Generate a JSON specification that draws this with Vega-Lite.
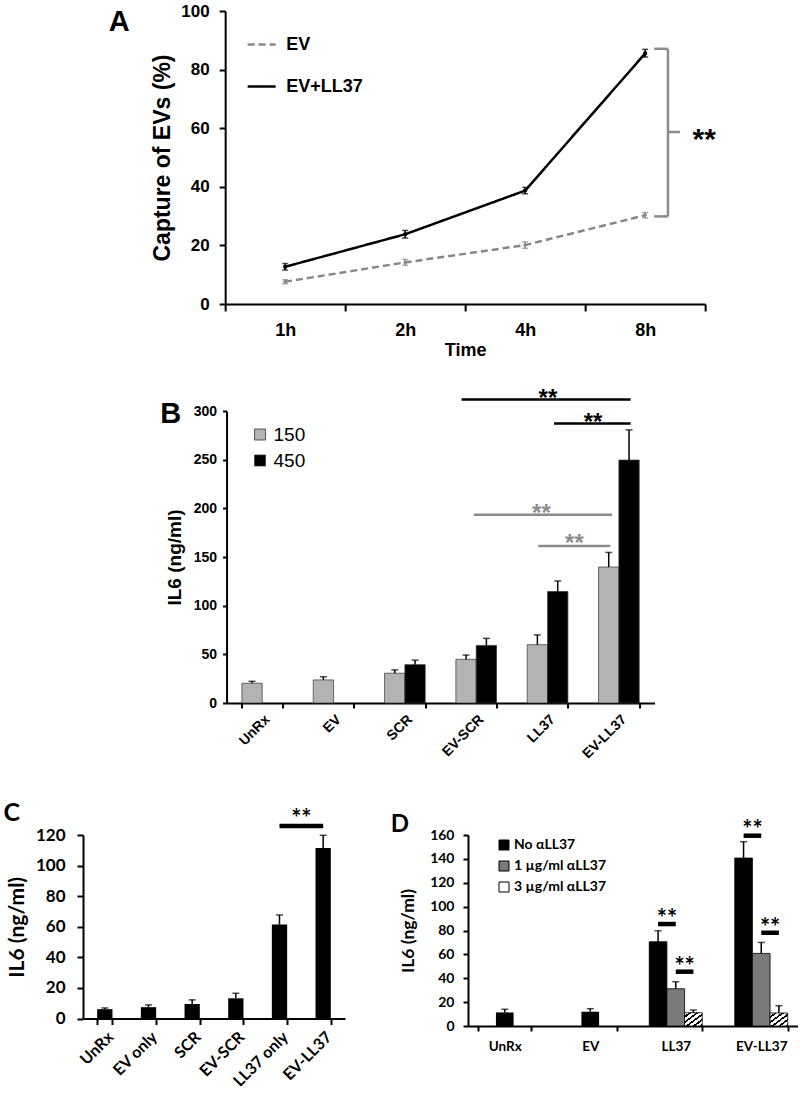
{
"$schema": "https://vega.github.io/schema/vega-lite/v6.json",
"background": "white",
"padding": {"left": 3, "top": 2, "right": 0, "bottom": 0},
"config": {
  "view": {"stroke": null},
  "axis": {"grid": false, "domainColor": "black", "tickColor": "black", "labelColor": "black", "titleColor": "black", "domainWidth": 2, "tickWidth": 2, "labelOverlap": false},
  "title": {"color": "black"},
  "legend": {"labelColor": "black"}
},
"resolve": {"scale": {"color": "independent", "fill": "independent", "strokeDash": "independent", "shape": "independent", "x": "independent", "y": "independent", "xOffset": "independent"}, "legend": {"color": "independent", "fill": "independent", "strokeDash": "independent"}},
"spacing": 39,
"center": true,
"vconcat": [
{
  "spacing": 28,
  "center": true,
  "resolve": {"scale": {"color": "independent", "fill": "independent", "strokeDash": "independent", "shape": "independent", "x": "independent", "y": "independent", "xOffset": "independent"}, "legend": {"color": "independent", "fill": "independent", "strokeDash": "independent"}},
  "vconcat": [
  {
    "width": 540, "height": 293,
    "title": {"text": "A", "orient": "top", "anchor": "start", "frame": "bounds", "baseline": "top", "offset": -35, "dx": -43, "font": "Liberation Sans", "fontSize": 29, "fontWeight": "bold", "color": "black"},
    "data": {"values": [
      {"time": "1h", "series": "EV+LL37", "value": 12.7, "lo": 11.6, "hi": 13.8},
      {"time": "2h", "series": "EV+LL37", "value": 23.8, "lo": 22.5, "hi": 25.1},
      {"time": "4h", "series": "EV+LL37", "value": 38.7, "lo": 37.6, "hi": 39.8},
      {"time": "8h", "series": "EV+LL37", "value": 85.5, "lo": 84.3, "hi": 86.9},
      {"time": "1h", "series": "EV", "value": 7.6, "lo": 6.9, "hi": 8.3},
      {"time": "2h", "series": "EV", "value": 14.2, "lo": 13.2, "hi": 15.2},
      {"time": "4h", "series": "EV", "value": 20.1, "lo": 19.0, "hi": 21.2},
      {"time": "8h", "series": "EV", "value": 30.3, "lo": 29.4, "hi": 31.2}
    ]},
    "layer": [
      {
        "mark": {"type": "line", "strokeWidth": 2.5},
        "encoding": {
          "x": {"field": "time", "type": "nominal", "bandPosition": 0.5, "scale": {"type": "band", "domain": ["1h", "2h", "4h", "8h"], "range": [60, 540], "paddingInner": 0, "paddingOuter": 0},
                "axis": {"title": "Time", "labelAngle": 0, "tickBand": "extent", "labelFont": "Liberation Sans", "labelFontSize": 18, "labelFontWeight": "bold", "titleFont": "Liberation Sans", "titleFontSize": 18, "titleFontWeight": "bold", "tickSize": 7, "labelPadding": 10, "titlePadding": 2, "labelOverlap": false}},
          "y": {"field": "value", "type": "quantitative", "scale": {"domain": [0, 100], "nice": false},
                "axis": {"title": "Capture of EVs (%)", "offset": -60, "values": [0, 20, 40, 60, 80, 100], "labelFont": "Liberation Sans", "labelFontSize": 17, "labelFontWeight": "bold", "titleFont": "Liberation Sans", "titleFontSize": 23, "titleFontWeight": "bold", "tickSize": 6, "labelPadding": 10, "titlePadding": 6, "labelOverlap": false}},
          "color": {"field": "series", "type": "nominal", "scale": {"domain": ["EV", "EV+LL37"], "range": ["#888888", "#000000"]},
                    "legend": {"orient": "none", "legendX": 81, "legendY": 18, "title": null, "symbolType": "stroke", "symbolSize": 784, "symbolStrokeWidth": 2.5, "labelFont": "Liberation Sans", "labelFontSize": 18, "labelFontWeight": "bold", "rowPadding": 17, "labelOffset": 9}},
          "strokeDash": {"field": "series", "type": "nominal", "scale": {"domain": ["EV", "EV+LL37"], "range": [[7, 4], [1, 0]]},
                    "legend": {"orient": "none", "legendX": 81, "legendY": 18, "title": null, "symbolType": "stroke", "symbolSize": 784, "symbolStrokeWidth": 2.5, "labelFont": "Liberation Sans", "labelFontSize": 18, "labelFontWeight": "bold", "rowPadding": 17, "labelOffset": 9}}
        }
      },
      {
        "mark": {"type": "rule", "strokeWidth": 1.5},
        "encoding": {
          "x": {"field": "time", "type": "nominal", "scale": {"type": "band", "domain": ["1h", "2h", "4h", "8h"], "range": [60, 540], "paddingInner": 0, "paddingOuter": 0},
                "axis": {"title": "Time", "labelAngle": 0, "tickBand": "extent", "labelFont": "Liberation Sans", "labelFontSize": 18, "labelFontWeight": "bold", "titleFont": "Liberation Sans", "titleFontSize": 18, "titleFontWeight": "bold", "tickSize": 7, "labelPadding": 10, "titlePadding": 2, "labelOverlap": false}},
          "y": {"field": "lo", "type": "quantitative", "scale": {"domain": [0, 100], "nice": false},
                "axis": {"title": "Capture of EVs (%)", "offset": -60, "values": [0, 20, 40, 60, 80, 100], "labelFont": "Liberation Sans", "labelFontSize": 17, "labelFontWeight": "bold", "titleFont": "Liberation Sans", "titleFontSize": 23, "titleFontWeight": "bold", "tickSize": 6, "labelPadding": 10, "titlePadding": 6, "labelOverlap": false}},
          "y2": {"field": "hi"},
          "color": {"condition": {"test": "datum.series === 'EV'", "value": "#888888"}, "value": "#000000"}
        }
      },
      {
        "mark": {"type": "tick", "orient": "horizontal", "size": 6, "thickness": 1.5},
        "encoding": {
          "x": {"field": "time", "type": "nominal", "scale": {"type": "band", "domain": ["1h", "2h", "4h", "8h"], "range": [60, 540], "paddingInner": 0, "paddingOuter": 0},
                "axis": {"title": "Time", "labelAngle": 0, "tickBand": "extent", "labelFont": "Liberation Sans", "labelFontSize": 18, "labelFontWeight": "bold", "titleFont": "Liberation Sans", "titleFontSize": 18, "titleFontWeight": "bold", "tickSize": 7, "labelPadding": 10, "titlePadding": 2, "labelOverlap": false}},
          "y": {"field": "hi", "type": "quantitative", "scale": {"domain": [0, 100], "nice": false},
                "axis": {"title": "Capture of EVs (%)", "offset": -60, "values": [0, 20, 40, 60, 80, 100], "labelFont": "Liberation Sans", "labelFontSize": 17, "labelFontWeight": "bold", "titleFont": "Liberation Sans", "titleFontSize": 23, "titleFontWeight": "bold", "tickSize": 6, "labelPadding": 10, "titlePadding": 6, "labelOverlap": false}},
          "color": {"condition": {"test": "datum.series === 'EV'", "value": "#888888"}, "value": "#000000"}
        }
      },
      {
        "mark": {"type": "tick", "orient": "horizontal", "size": 6, "thickness": 1.5},
        "encoding": {
          "x": {"field": "time", "type": "nominal", "scale": {"type": "band", "domain": ["1h", "2h", "4h", "8h"], "range": [60, 540], "paddingInner": 0, "paddingOuter": 0},
                "axis": {"title": "Time", "labelAngle": 0, "tickBand": "extent", "labelFont": "Liberation Sans", "labelFontSize": 18, "labelFontWeight": "bold", "titleFont": "Liberation Sans", "titleFontSize": 18, "titleFontWeight": "bold", "tickSize": 7, "labelPadding": 10, "titlePadding": 2, "labelOverlap": false}},
          "y": {"field": "lo", "type": "quantitative", "scale": {"domain": [0, 100], "nice": false},
                "axis": {"title": "Capture of EVs (%)", "offset": -60, "values": [0, 20, 40, 60, 80, 100], "labelFont": "Liberation Sans", "labelFontSize": 17, "labelFontWeight": "bold", "titleFont": "Liberation Sans", "titleFontSize": 23, "titleFontWeight": "bold", "tickSize": 6, "labelPadding": 10, "titlePadding": 6, "labelOverlap": false}},
          "color": {"condition": {"test": "datum.series === 'EV'", "value": "#888888"}, "value": "#000000"}
        }
      },
      {
        "mark": {"type": "point", "filled": true, "size": 18, "opacity": 1},
        "encoding": {
          "x": {"field": "time", "type": "nominal", "scale": {"type": "band", "domain": ["1h", "2h", "4h", "8h"], "range": [60, 540], "paddingInner": 0, "paddingOuter": 0},
                "axis": {"title": "Time", "labelAngle": 0, "tickBand": "extent", "labelFont": "Liberation Sans", "labelFontSize": 18, "labelFontWeight": "bold", "titleFont": "Liberation Sans", "titleFontSize": 18, "titleFontWeight": "bold", "tickSize": 7, "labelPadding": 10, "titlePadding": 2, "labelOverlap": false}},
          "y": {"field": "value", "type": "quantitative", "scale": {"domain": [0, 100], "nice": false},
                "axis": {"title": "Capture of EVs (%)", "offset": -60, "values": [0, 20, 40, 60, 80, 100], "labelFont": "Liberation Sans", "labelFontSize": 17, "labelFontWeight": "bold", "titleFont": "Liberation Sans", "titleFontSize": 23, "titleFontWeight": "bold", "tickSize": 6, "labelPadding": 10, "titlePadding": 6, "labelOverlap": false}},
          "shape": {"condition": {"test": "datum.series === 'EV'", "value": "diamond"}, "value": "circle"},
          "color": {"condition": {"test": "datum.series === 'EV'", "value": "#888888"}, "value": "#000000"}
        }
      },
      {
        "data": {"values": [{"time": "8h", "top": 87.1, "bottom": 29.9}]},
        "mark": {"type": "rule", "color": "#8c8c8c", "strokeWidth": 2.5},
        "encoding": {
          "x": {"field": "time", "type": "nominal", "bandPosition": 0.69, "scale": {"type": "band", "domain": ["1h", "2h", "4h", "8h"], "range": [60, 540], "paddingInner": 0, "paddingOuter": 0},
                "axis": {"title": "Time", "labelAngle": 0, "tickBand": "extent", "labelFont": "Liberation Sans", "labelFontSize": 18, "labelFontWeight": "bold", "titleFont": "Liberation Sans", "titleFontSize": 18, "titleFontWeight": "bold", "tickSize": 7, "labelPadding": 10, "titlePadding": 2, "labelOverlap": false}},
          "y": {"field": "top", "type": "quantitative", "scale": {"domain": [0, 100], "nice": false},
                "axis": {"title": "Capture of EVs (%)", "offset": -60, "values": [0, 20, 40, 60, 80, 100], "labelFont": "Liberation Sans", "labelFontSize": 17, "labelFontWeight": "bold", "titleFont": "Liberation Sans", "titleFontSize": 23, "titleFontWeight": "bold", "tickSize": 6, "labelPadding": 10, "titlePadding": 6, "labelOverlap": false}},
          "y2": {"field": "bottom"}
        }
      },
      {
        "data": {"values": [{"time": "8h", "y": 87.1}, {"time": "8h", "y": 29.9}]},
        "mark": {"type": "rule", "color": "#8c8c8c", "strokeWidth": 2.5},
        "encoding": {
          "x": {"field": "time", "type": "nominal", "bandPosition": 0.575, "scale": {"type": "band", "domain": ["1h", "2h", "4h", "8h"], "range": [60, 540], "paddingInner": 0, "paddingOuter": 0},
                "axis": {"title": "Time", "labelAngle": 0, "tickBand": "extent", "labelFont": "Liberation Sans", "labelFontSize": 18, "labelFontWeight": "bold", "titleFont": "Liberation Sans", "titleFontSize": 18, "titleFontWeight": "bold", "tickSize": 7, "labelPadding": 10, "titlePadding": 2, "labelOverlap": false}},
          "x2": {"field": "time", "bandPosition": 0.69},
          "y": {"field": "y", "type": "quantitative", "scale": {"domain": [0, 100], "nice": false},
                "axis": {"title": "Capture of EVs (%)", "offset": -60, "values": [0, 20, 40, 60, 80, 100], "labelFont": "Liberation Sans", "labelFontSize": 17, "labelFontWeight": "bold", "titleFont": "Liberation Sans", "titleFontSize": 23, "titleFontWeight": "bold", "tickSize": 6, "labelPadding": 10, "titlePadding": 6, "labelOverlap": false}}
        }
      },
      {
        "data": {"values": [{"time": "8h", "y": 58.7}]},
        "mark": {"type": "rule", "color": "#8c8c8c", "strokeWidth": 2.5},
        "encoding": {
          "x": {"field": "time", "type": "nominal", "bandPosition": 0.69, "scale": {"type": "band", "domain": ["1h", "2h", "4h", "8h"], "range": [60, 540], "paddingInner": 0, "paddingOuter": 0},
                "axis": {"title": "Time", "labelAngle": 0, "tickBand": "extent", "labelFont": "Liberation Sans", "labelFontSize": 18, "labelFontWeight": "bold", "titleFont": "Liberation Sans", "titleFontSize": 18, "titleFontWeight": "bold", "tickSize": 7, "labelPadding": 10, "titlePadding": 2, "labelOverlap": false}},
          "x2": {"field": "time", "bandPosition": 0.79},
          "y": {"field": "y", "type": "quantitative", "scale": {"domain": [0, 100], "nice": false},
                "axis": {"title": "Capture of EVs (%)", "offset": -60, "values": [0, 20, 40, 60, 80, 100], "labelFont": "Liberation Sans", "labelFontSize": 17, "labelFontWeight": "bold", "titleFont": "Liberation Sans", "titleFontSize": 23, "titleFontWeight": "bold", "tickSize": 6, "labelPadding": 10, "titlePadding": 6, "labelOverlap": false}}
        }
      },
      {
        "data": {"values": [{"time": "8h", "ty": 56, "label": "**"}]},
        "mark": {"type": "text", "align": "right", "baseline": "middle", "font": "Liberation Sans", "fontSize": 30, "fontWeight": "bold", "color": "black"},
        "encoding": {
          "x": {"field": "time", "type": "nominal", "bandPosition": 1.09, "scale": {"type": "band", "domain": ["1h", "2h", "4h", "8h"], "range": [60, 540], "paddingInner": 0, "paddingOuter": 0},
                "axis": {"title": "Time", "labelAngle": 0, "tickBand": "extent", "labelFont": "Liberation Sans", "labelFontSize": 18, "labelFontWeight": "bold", "titleFont": "Liberation Sans", "titleFontSize": 18, "titleFontWeight": "bold", "tickSize": 7, "labelPadding": 10, "titlePadding": 2, "labelOverlap": false}},
          "y": {"field": "ty", "type": "quantitative", "scale": {"domain": [0, 100], "nice": false},
                "axis": {"title": "Capture of EVs (%)", "offset": -60, "values": [0, 20, 40, 60, 80, 100], "labelFont": "Liberation Sans", "labelFontSize": 17, "labelFontWeight": "bold", "titleFont": "Liberation Sans", "titleFontSize": 23, "titleFontWeight": "bold", "tickSize": 6, "labelPadding": 10, "titlePadding": 6, "labelOverlap": false}},
          "text": {"field": "label"}
        }
      }
    ]
  },
  {
    "width": 428, "height": 292,
    "title": {"text": "B", "orient": "top", "anchor": "start", "frame": "bounds", "baseline": "top", "offset": -42, "dx": -5, "font": "Liberation Sans", "fontSize": 29, "fontWeight": "bold", "color": "black"},
    "data": {"values": [
      {"group": "UnRx", "dose": "150", "value": 20.3, "hi": 22.3},
      {"group": "EV", "dose": "150", "value": 23.7, "hi": 27},
      {"group": "SCR", "dose": "150", "value": 30.6, "hi": 34},
      {"group": "SCR", "dose": "450", "value": 39.4, "hi": 44},
      {"group": "EV-SCR", "dose": "150", "value": 44.9, "hi": 49.3},
      {"group": "EV-SCR", "dose": "450", "value": 59.2, "hi": 66.4},
      {"group": "LL37", "dose": "150", "value": 59.9, "hi": 70},
      {"group": "LL37", "dose": "450", "value": 114.5, "hi": 125.4},
      {"group": "EV-LL37", "dose": "150", "value": 139.7, "hi": 154.7},
      {"group": "EV-LL37", "dose": "450", "value": 249.6, "hi": 280.6}
    ]},
    "layer": [
      {
        "mark": {"type": "bar", "stroke": "#333333", "strokeWidth": 0.7},
        "encoding": {
          "x": {"field": "group", "type": "nominal", "scale": {"domain": ["UnRx", "EV", "SCR", "EV-SCR", "LL37", "EV-LL37"], "paddingInner": 0.43, "paddingOuter": 0.215},
                "axis": {"title": null, "labelAngle": -45, "tickBand": "extent", "labelFont": "Liberation Sans", "labelFontSize": 14, "labelFontWeight": "bold", "tickSize": 5, "labelPadding": 4, "labelOverlap": false}},
          "xOffset": {"field": "dose", "type": "nominal", "scale": {"domain": ["150", "450"], "paddingInner": 0, "paddingOuter": 0}},
          "y": {"field": "value", "type": "quantitative", "scale": {"domain": [0, 300], "nice": false},
                "axis": {"title": "IL6 (ng/ml)", "values": [0, 50, 100, 150, 200, 250, 300], "labelFont": "Liberation Sans", "labelFontSize": 14, "labelFontWeight": "bold", "titleFont": "Liberation Sans", "titleFontSize": 19, "titleFontWeight": "bold", "tickSize": 4, "labelPadding": 6, "titlePadding": 9, "labelOverlap": false}},
          "color": {"field": "dose", "type": "nominal", "scale": {"domain": ["150", "450"], "range": ["#b3b3b3", "#000000"]},
                    "legend": {"orient": "none", "legendX": 24, "legendY": 14, "title": null, "symbolType": "square", "symbolSize": 121, "symbolStrokeColor": "#333333", "symbolStrokeWidth": 0.8, "labelFont": "Liberation Sans", "labelFontSize": 19, "labelFontWeight": "normal", "labelOffset": 4, "rowPadding": 6}}
        }
      },
      {
        "mark": {"type": "rule", "color": "#000000", "strokeWidth": 1.5},
        "encoding": {
          "x": {"field": "group", "type": "nominal", "scale": {"domain": ["UnRx", "EV", "SCR", "EV-SCR", "LL37", "EV-LL37"], "paddingInner": 0.43, "paddingOuter": 0.215},
                "axis": {"title": null, "labelAngle": -45, "tickBand": "extent", "labelFont": "Liberation Sans", "labelFontSize": 14, "labelFontWeight": "bold", "tickSize": 5, "labelPadding": 4, "labelOverlap": false}},
          "xOffset": {"field": "dose", "type": "nominal", "scale": {"domain": ["150", "450"], "paddingInner": 0, "paddingOuter": 0}},
          "y": {"field": "value", "type": "quantitative", "scale": {"domain": [0, 300], "nice": false},
                "axis": {"title": "IL6 (ng/ml)", "values": [0, 50, 100, 150, 200, 250, 300], "labelFont": "Liberation Sans", "labelFontSize": 14, "labelFontWeight": "bold", "titleFont": "Liberation Sans", "titleFontSize": 19, "titleFontWeight": "bold", "tickSize": 4, "labelPadding": 6, "titlePadding": 9, "labelOverlap": false}},
          "y2": {"field": "hi"}
        }
      },
      {
        "mark": {"type": "tick", "orient": "horizontal", "size": 7, "thickness": 1.5, "color": "#000000"},
        "encoding": {
          "x": {"field": "group", "type": "nominal", "scale": {"domain": ["UnRx", "EV", "SCR", "EV-SCR", "LL37", "EV-LL37"], "paddingInner": 0.43, "paddingOuter": 0.215},
                "axis": {"title": null, "labelAngle": -45, "tickBand": "extent", "labelFont": "Liberation Sans", "labelFontSize": 14, "labelFontWeight": "bold", "tickSize": 5, "labelPadding": 4, "labelOverlap": false}},
          "xOffset": {"field": "dose", "type": "nominal", "scale": {"domain": ["150", "450"], "paddingInner": 0, "paddingOuter": 0}},
          "y": {"field": "hi", "type": "quantitative", "scale": {"domain": [0, 300], "nice": false},
                "axis": {"title": "IL6 (ng/ml)", "values": [0, 50, 100, 150, 200, 250, 300], "labelFont": "Liberation Sans", "labelFontSize": 14, "labelFontWeight": "bold", "titleFont": "Liberation Sans", "titleFontSize": 19, "titleFontWeight": "bold", "tickSize": 4, "labelPadding": 6, "titlePadding": 9, "labelOverlap": false}}
        }
      },
      {
        "data": {"values": [{"group": "EV-SCR", "to": "EV-LL37", "y": 311.7}]},
        "mark": {"type": "rule", "color": "#000000", "strokeWidth": 2.5},
        "encoding": {
          "x": {"field": "group", "type": "nominal", "bandPosition": 0.14, "scale": {"domain": ["UnRx", "EV", "SCR", "EV-SCR", "LL37", "EV-LL37"], "paddingInner": 0.43, "paddingOuter": 0.215},
                "axis": {"title": null, "labelAngle": -45, "tickBand": "extent", "labelFont": "Liberation Sans", "labelFontSize": 14, "labelFontWeight": "bold", "tickSize": 5, "labelPadding": 4, "labelOverlap": false}},
          "x2": {"field": "to", "bandPosition": 0.79},
          "y": {"field": "y", "type": "quantitative", "scale": {"domain": [0, 300], "nice": false},
                "axis": {"title": "IL6 (ng/ml)", "values": [0, 50, 100, 150, 200, 250, 300], "labelFont": "Liberation Sans", "labelFontSize": 14, "labelFontWeight": "bold", "titleFont": "Liberation Sans", "titleFontSize": 19, "titleFontWeight": "bold", "tickSize": 4, "labelPadding": 6, "titlePadding": 9, "labelOverlap": false}}
        }
      },
      {
        "data": {"values": [{"group": "LL37", "to": "EV-LL37", "y": 287.1}]},
        "mark": {"type": "rule", "color": "#000000", "strokeWidth": 2.5},
        "encoding": {
          "x": {"field": "group", "type": "nominal", "bandPosition": 0.66, "scale": {"domain": ["UnRx", "EV", "SCR", "EV-SCR", "LL37", "EV-LL37"], "paddingInner": 0.43, "paddingOuter": 0.215},
                "axis": {"title": null, "labelAngle": -45, "tickBand": "extent", "labelFont": "Liberation Sans", "labelFontSize": 14, "labelFontWeight": "bold", "tickSize": 5, "labelPadding": 4, "labelOverlap": false}},
          "x2": {"field": "to", "bandPosition": 0.79},
          "y": {"field": "y", "type": "quantitative", "scale": {"domain": [0, 300], "nice": false},
                "axis": {"title": "IL6 (ng/ml)", "values": [0, 50, 100, 150, 200, 250, 300], "labelFont": "Liberation Sans", "labelFontSize": 14, "labelFontWeight": "bold", "titleFont": "Liberation Sans", "titleFontSize": 19, "titleFontWeight": "bold", "tickSize": 4, "labelPadding": 6, "titlePadding": 9, "labelOverlap": false}}
        }
      },
      {
        "data": {"values": [{"group": "EV-SCR", "to": "EV-LL37", "y": 193.4}]},
        "mark": {"type": "rule", "color": "#8c8c8c", "strokeWidth": 2.5},
        "encoding": {
          "x": {"field": "group", "type": "nominal", "bandPosition": 0.44, "scale": {"domain": ["UnRx", "EV", "SCR", "EV-SCR", "LL37", "EV-LL37"], "paddingInner": 0.43, "paddingOuter": 0.215},
                "axis": {"title": null, "labelAngle": -45, "tickBand": "extent", "labelFont": "Liberation Sans", "labelFontSize": 14, "labelFontWeight": "bold", "tickSize": 5, "labelPadding": 4, "labelOverlap": false}},
          "x2": {"field": "to", "bandPosition": 0.33},
          "y": {"field": "y", "type": "quantitative", "scale": {"domain": [0, 300], "nice": false},
                "axis": {"title": "IL6 (ng/ml)", "values": [0, 50, 100, 150, 200, 250, 300], "labelFont": "Liberation Sans", "labelFontSize": 14, "labelFontWeight": "bold", "titleFont": "Liberation Sans", "titleFontSize": 19, "titleFontWeight": "bold", "tickSize": 4, "labelPadding": 6, "titlePadding": 9, "labelOverlap": false}}
        }
      },
      {
        "data": {"values": [{"group": "LL37", "to": "EV-LL37", "y": 161.4}]},
        "mark": {"type": "rule", "color": "#8c8c8c", "strokeWidth": 2.5},
        "encoding": {
          "x": {"field": "group", "type": "nominal", "bandPosition": 0.27, "scale": {"domain": ["UnRx", "EV", "SCR", "EV-SCR", "LL37", "EV-LL37"], "paddingInner": 0.43, "paddingOuter": 0.215},
                "axis": {"title": null, "labelAngle": -45, "tickBand": "extent", "labelFont": "Liberation Sans", "labelFontSize": 14, "labelFontWeight": "bold", "tickSize": 5, "labelPadding": 4, "labelOverlap": false}},
          "x2": {"field": "to", "bandPosition": 0.29},
          "y": {"field": "y", "type": "quantitative", "scale": {"domain": [0, 300], "nice": false},
                "axis": {"title": "IL6 (ng/ml)", "values": [0, 50, 100, 150, 200, 250, 300], "labelFont": "Liberation Sans", "labelFontSize": 14, "labelFontWeight": "bold", "titleFont": "Liberation Sans", "titleFontSize": 19, "titleFontWeight": "bold", "tickSize": 4, "labelPadding": 6, "titlePadding": 9, "labelOverlap": false}}
        }
      },
      {
        "data": {"values": [{"group": "LL37", "ty": 311.9, "label": "**"}]},
        "mark": {"type": "text", "align": "center", "baseline": "middle", "font": "Liberation Sans", "fontSize": 24, "fontWeight": "bold", "color": "#000000"},
        "encoding": {
          "x": {"field": "group", "type": "nominal", "bandPosition": 0.51, "scale": {"domain": ["UnRx", "EV", "SCR", "EV-SCR", "LL37", "EV-LL37"], "paddingInner": 0.43, "paddingOuter": 0.215},
                "axis": {"title": null, "labelAngle": -45, "tickBand": "extent", "labelFont": "Liberation Sans", "labelFontSize": 14, "labelFontWeight": "bold", "tickSize": 5, "labelPadding": 4, "labelOverlap": false}},
          "y": {"field": "ty", "type": "quantitative", "scale": {"domain": [0, 300], "nice": false},
                "axis": {"title": "IL6 (ng/ml)", "values": [0, 50, 100, 150, 200, 250, 300], "labelFont": "Liberation Sans", "labelFontSize": 14, "labelFontWeight": "bold", "titleFont": "Liberation Sans", "titleFontSize": 19, "titleFontWeight": "bold", "tickSize": 4, "labelPadding": 6, "titlePadding": 9, "labelOverlap": false}},
          "text": {"field": "label"}
        }
      },
      {
        "data": {"values": [{"group": "LL37", "ty": 288.1, "label": "**"}]},
        "mark": {"type": "text", "align": "center", "baseline": "middle", "font": "Liberation Sans", "fontSize": 24, "fontWeight": "bold", "color": "#000000"},
        "encoding": {
          "x": {"field": "group", "type": "nominal", "bandPosition": 1.62, "scale": {"domain": ["UnRx", "EV", "SCR", "EV-SCR", "LL37", "EV-LL37"], "paddingInner": 0.43, "paddingOuter": 0.215},
                "axis": {"title": null, "labelAngle": -45, "tickBand": "extent", "labelFont": "Liberation Sans", "labelFontSize": 14, "labelFontWeight": "bold", "tickSize": 5, "labelPadding": 4, "labelOverlap": false}},
          "y": {"field": "ty", "type": "quantitative", "scale": {"domain": [0, 300], "nice": false},
                "axis": {"title": "IL6 (ng/ml)", "values": [0, 50, 100, 150, 200, 250, 300], "labelFont": "Liberation Sans", "labelFontSize": 14, "labelFontWeight": "bold", "titleFont": "Liberation Sans", "titleFontSize": 19, "titleFontWeight": "bold", "tickSize": 4, "labelPadding": 6, "titlePadding": 9, "labelOverlap": false}},
          "text": {"field": "label"}
        }
      },
      {
        "data": {"values": [{"group": "LL37", "ty": 194.6, "label": "**"}]},
        "mark": {"type": "text", "align": "center", "baseline": "middle", "font": "Liberation Sans", "fontSize": 24, "fontWeight": "bold", "color": "#8c8c8c"},
        "encoding": {
          "x": {"field": "group", "type": "nominal", "bandPosition": 0.35, "scale": {"domain": ["UnRx", "EV", "SCR", "EV-SCR", "LL37", "EV-LL37"], "paddingInner": 0.43, "paddingOuter": 0.215},
                "axis": {"title": null, "labelAngle": -45, "tickBand": "extent", "labelFont": "Liberation Sans", "labelFontSize": 14, "labelFontWeight": "bold", "tickSize": 5, "labelPadding": 4, "labelOverlap": false}},
          "y": {"field": "ty", "type": "quantitative", "scale": {"domain": [0, 300], "nice": false},
                "axis": {"title": "IL6 (ng/ml)", "values": [0, 50, 100, 150, 200, 250, 300], "labelFont": "Liberation Sans", "labelFontSize": 14, "labelFontWeight": "bold", "titleFont": "Liberation Sans", "titleFontSize": 19, "titleFontWeight": "bold", "tickSize": 4, "labelPadding": 6, "titlePadding": 9, "labelOverlap": false}},
          "text": {"field": "label"}
        }
      },
      {
        "data": {"values": [{"group": "LL37", "ty": 163.1, "label": "**"}]},
        "mark": {"type": "text", "align": "center", "baseline": "middle", "font": "Liberation Sans", "fontSize": 24, "fontWeight": "bold", "color": "#8c8c8c"},
        "encoding": {
          "x": {"field": "group", "type": "nominal", "bandPosition": 1.16, "scale": {"domain": ["UnRx", "EV", "SCR", "EV-SCR", "LL37", "EV-LL37"], "paddingInner": 0.43, "paddingOuter": 0.215},
                "axis": {"title": null, "labelAngle": -45, "tickBand": "extent", "labelFont": "Liberation Sans", "labelFontSize": 14, "labelFontWeight": "bold", "tickSize": 5, "labelPadding": 4, "labelOverlap": false}},
          "y": {"field": "ty", "type": "quantitative", "scale": {"domain": [0, 300], "nice": false},
                "axis": {"title": "IL6 (ng/ml)", "values": [0, 50, 100, 150, 200, 250, 300], "labelFont": "Liberation Sans", "labelFontSize": 14, "labelFontWeight": "bold", "titleFont": "Liberation Sans", "titleFontSize": 19, "titleFontWeight": "bold", "tickSize": 4, "labelPadding": 6, "titlePadding": 9, "labelOverlap": false}},
          "text": {"field": "label"}
        }
      }
    ]
  }
  ]
},
{
  "spacing": 45,
  "resolve": {"scale": {"color": "independent", "fill": "independent", "strokeDash": "independent", "shape": "independent", "x": "independent", "y": "independent", "xOffset": "independent"}, "legend": {"color": "independent", "fill": "independent", "strokeDash": "independent"}},
  "hconcat": [
  {
    "width": 262, "height": 183.5,
    "title": {"text": "C", "orient": "top", "anchor": "start", "frame": "bounds", "baseline": "top", "offset": -18, "dx": -3, "font": "Lato", "fontSize": 25, "fontWeight": "bold", "color": "black"},
    "data": {"values": [
      {"group": "UnRx", "value": 6.1, "hi": 6.9},
      {"group": "EV only", "value": 7.4, "hi": 8.9},
      {"group": "SCR", "value": 9.5, "hi": 12.2},
      {"group": "EV-SCR", "value": 13.2, "hi": 16.5},
      {"group": "LL37 only", "value": 61.4, "hi": 67.7},
      {"group": "EV-LL37", "value": 111.5, "hi": 119.8}
    ]},
    "layer": [
      {
        "mark": {"type": "bar", "color": "#000000"},
        "encoding": {
          "x": {"field": "group", "type": "nominal", "scale": {"domain": ["UnRx", "EV only", "SCR", "EV-SCR", "LL37 only", "EV-LL37"], "paddingInner": 0.65, "paddingOuter": 0.325},
                "axis": {"title": null, "labelAngle": -45, "tickBand": "extent", "labelFont": "Lato", "labelFontSize": 16, "labelFontWeight": "bold", "tickSize": 6, "labelPadding": 4, "labelOverlap": false}},
          "y": {"field": "value", "type": "quantitative", "scale": {"domain": [0, 120], "nice": false},
                "axis": {"title": "IL6 (ng/ml)", "values": [0, 20, 40, 60, 80, 100, 120], "labelFont": "Lato", "labelFontSize": 17, "labelFontWeight": "bold", "titleFont": "Lato", "titleFontSize": 21, "titleFontWeight": "bold", "tickSize": 6, "labelPadding": 12, "titlePadding": 8, "labelOverlap": false}}
        }
      },
      {
        "mark": {"type": "rule", "color": "#000000", "strokeWidth": 1.5},
        "encoding": {
          "x": {"field": "group", "type": "nominal", "scale": {"domain": ["UnRx", "EV only", "SCR", "EV-SCR", "LL37 only", "EV-LL37"], "paddingInner": 0.65, "paddingOuter": 0.325},
                "axis": {"title": null, "labelAngle": -45, "tickBand": "extent", "labelFont": "Lato", "labelFontSize": 16, "labelFontWeight": "bold", "tickSize": 6, "labelPadding": 4, "labelOverlap": false}},
          "y": {"field": "value", "type": "quantitative", "scale": {"domain": [0, 120], "nice": false},
                "axis": {"title": "IL6 (ng/ml)", "values": [0, 20, 40, 60, 80, 100, 120], "labelFont": "Lato", "labelFontSize": 17, "labelFontWeight": "bold", "titleFont": "Lato", "titleFontSize": 21, "titleFontWeight": "bold", "tickSize": 6, "labelPadding": 12, "titlePadding": 8, "labelOverlap": false}},
          "y2": {"field": "hi"}
        }
      },
      {
        "mark": {"type": "tick", "orient": "horizontal", "size": 7, "thickness": 1.5, "color": "#000000"},
        "encoding": {
          "x": {"field": "group", "type": "nominal", "scale": {"domain": ["UnRx", "EV only", "SCR", "EV-SCR", "LL37 only", "EV-LL37"], "paddingInner": 0.65, "paddingOuter": 0.325},
                "axis": {"title": null, "labelAngle": -45, "tickBand": "extent", "labelFont": "Lato", "labelFontSize": 16, "labelFontWeight": "bold", "tickSize": 6, "labelPadding": 4, "labelOverlap": false}},
          "y": {"field": "hi", "type": "quantitative", "scale": {"domain": [0, 120], "nice": false},
                "axis": {"title": "IL6 (ng/ml)", "values": [0, 20, 40, 60, 80, 100, 120], "labelFont": "Lato", "labelFontSize": 17, "labelFontWeight": "bold", "titleFont": "Lato", "titleFontSize": 21, "titleFontWeight": "bold", "tickSize": 6, "labelPadding": 12, "titlePadding": 8, "labelOverlap": false}}
        }
      },
      {
        "data": {"values": [{"group": "LL37 only", "to": "EV-LL37", "y": 125.9}]},
        "mark": {"type": "rule", "color": "#000000", "strokeWidth": 4.5},
        "encoding": {
          "x": {"field": "group", "type": "nominal", "bandPosition": 0.5, "scale": {"domain": ["UnRx", "EV only", "SCR", "EV-SCR", "LL37 only", "EV-LL37"], "paddingInner": 0.65, "paddingOuter": 0.325},
                "axis": {"title": null, "labelAngle": -45, "tickBand": "extent", "labelFont": "Lato", "labelFontSize": 16, "labelFontWeight": "bold", "tickSize": 6, "labelPadding": 4, "labelOverlap": false}},
          "x2": {"field": "to", "bandPosition": 0.5},
          "y": {"field": "y", "type": "quantitative", "scale": {"domain": [0, 120], "nice": false},
                "axis": {"title": "IL6 (ng/ml)", "values": [0, 20, 40, 60, 80, 100, 120], "labelFont": "Lato", "labelFontSize": 17, "labelFontWeight": "bold", "titleFont": "Lato", "titleFontSize": 21, "titleFontWeight": "bold", "tickSize": 6, "labelPadding": 12, "titlePadding": 8, "labelOverlap": false}}
        }
      },
      {
        "data": {"values": [{"group": "LL37 only", "ty": 130, "label": "**"}]},
        "mark": {"type": "text", "align": "center", "baseline": "middle", "font": "Lato", "fontSize": 24, "fontWeight": "bold", "color": "#000000"},
        "encoding": {
          "x": {"field": "group", "type": "nominal", "bandPosition": 1.93, "scale": {"domain": ["UnRx", "EV only", "SCR", "EV-SCR", "LL37 only", "EV-LL37"], "paddingInner": 0.65, "paddingOuter": 0.325},
                "axis": {"title": null, "labelAngle": -45, "tickBand": "extent", "labelFont": "Lato", "labelFontSize": 16, "labelFontWeight": "bold", "tickSize": 6, "labelPadding": 4, "labelOverlap": false}},
          "y": {"field": "ty", "type": "quantitative", "scale": {"domain": [0, 120], "nice": false},
                "axis": {"title": "IL6 (ng/ml)", "values": [0, 20, 40, 60, 80, 100, 120], "labelFont": "Lato", "labelFontSize": 17, "labelFontWeight": "bold", "titleFont": "Lato", "titleFontSize": 21, "titleFontWeight": "bold", "tickSize": 6, "labelPadding": 12, "titlePadding": 8, "labelOverlap": false}},
          "text": {"field": "label"}
        }
      }
    ]
  },
  {
    "width": 330, "height": 191,
    "title": {"text": "D", "orient": "top", "anchor": "start", "frame": "bounds", "baseline": "top", "offset": -18, "dx": -9, "font": "Lato", "fontSize": 24, "fontWeight": "bold", "color": "black"},
    "layer": [
      {
        "data": {"values": [
          {"group": "LL37", "series": "No αLL37", "value": 70.6, "hi": 79.8},
          {"group": "LL37", "series": "1 µg/ml αLL37", "value": 31.2, "hi": 37.1},
          {"group": "LL37", "series": "3 µg/ml αLL37", "value": 11.1, "hi": 13.4},
          {"group": "EV-LL37", "series": "No αLL37", "value": 140.7, "hi": 154.4},
          {"group": "EV-LL37", "series": "1 µg/ml αLL37", "value": 60.8, "hi": 70},
          {"group": "EV-LL37", "series": "3 µg/ml αLL37", "value": 10.9, "hi": 17}
        ]},
        "mark": {"type": "bar", "stroke": "#000000", "strokeWidth": 0.8},
        "encoding": {
          "x": {"field": "group", "type": "nominal", "scale": {"domain": ["UnRx", "EV", "LL37", "EV-LL37"], "paddingInner": 0.38, "paddingOuter": 0.12},
                "axis": {"title": null, "labelAngle": 0, "tickBand": "extent", "labelFont": "Lato", "labelFontSize": 13.5, "labelFontWeight": "bold", "tickSize": 5, "labelPadding": 8, "labelOverlap": false}},
          "xOffset": {"field": "series", "type": "nominal", "scale": {"domain": ["No αLL37", "1 µg/ml αLL37", "3 µg/ml αLL37"], "paddingInner": 0, "paddingOuter": 0}},
          "y": {"field": "value", "type": "quantitative", "scale": {"domain": [0, 160], "nice": false},
                "axis": {"title": "IL6 (ng/ml)", "values": [0, 20, 40, 60, 80, 100, 120, 140, 160], "labelFont": "Lato", "labelFontSize": 14, "labelFontWeight": "bold", "titleFont": "Lato", "titleFontSize": 17.5, "titleFontWeight": "bold", "tickSize": 5, "labelPadding": 9, "titlePadding": 12, "labelOverlap": false}},
          "fill": {"condition": {"test": "datum.series === '3 µg/ml αLL37'", "value": {"gradient": "linear", "x1": 0, "y1": 0, "x2": 1, "y2": 1, "stops": [
              {"offset": 0, "color": "#ffffff"}, {"offset": 0.12, "color": "#ffffff"}, {"offset": 0.12, "color": "#000000"}, {"offset": 0.2, "color": "#000000"}, {"offset": 0.2, "color": "#ffffff"},
              {"offset": 0.32, "color": "#ffffff"}, {"offset": 0.32, "color": "#000000"}, {"offset": 0.4, "color": "#000000"}, {"offset": 0.4, "color": "#ffffff"},
              {"offset": 0.52, "color": "#ffffff"}, {"offset": 0.52, "color": "#000000"}, {"offset": 0.6, "color": "#000000"}, {"offset": 0.6, "color": "#ffffff"},
              {"offset": 0.72, "color": "#ffffff"}, {"offset": 0.72, "color": "#000000"}, {"offset": 0.8, "color": "#000000"}, {"offset": 0.8, "color": "#ffffff"},
              {"offset": 0.92, "color": "#ffffff"}, {"offset": 0.92, "color": "#000000"}, {"offset": 1, "color": "#000000"}]}},
            "field": "series", "type": "nominal", "scale": {"domain": ["No αLL37", "1 µg/ml αLL37", "3 µg/ml αLL37"], "range": ["#000000", "#7a7a7a", "#ffffff"]},
            "legend": {"orient": "none", "legendX": 29, "legendY": 3, "title": null, "symbolType": "square", "symbolSize": 100, "symbolStrokeColor": "#000000", "symbolStrokeWidth": 1, "labelFont": "Lato", "labelFontSize": 14, "labelFontWeight": "bold", "labelOffset": 3, "rowPadding": 7}}
        }
      },
      {
        "data": {"values": [
          {"group": "LL37", "series": "No αLL37", "value": 70.6, "hi": 79.8},
          {"group": "LL37", "series": "1 µg/ml αLL37", "value": 31.2, "hi": 37.1},
          {"group": "LL37", "series": "3 µg/ml αLL37", "value": 11.1, "hi": 13.4},
          {"group": "EV-LL37", "series": "No αLL37", "value": 140.7, "hi": 154.4},
          {"group": "EV-LL37", "series": "1 µg/ml αLL37", "value": 60.8, "hi": 70},
          {"group": "EV-LL37", "series": "3 µg/ml αLL37", "value": 10.9, "hi": 17}
        ]},
        "mark": {"type": "rule", "color": "#000000", "strokeWidth": 1.5},
        "encoding": {
          "x": {"field": "group", "type": "nominal", "scale": {"domain": ["UnRx", "EV", "LL37", "EV-LL37"], "paddingInner": 0.38, "paddingOuter": 0.12},
                "axis": {"title": null, "labelAngle": 0, "tickBand": "extent", "labelFont": "Lato", "labelFontSize": 13.5, "labelFontWeight": "bold", "tickSize": 5, "labelPadding": 8, "labelOverlap": false}},
          "xOffset": {"field": "series", "type": "nominal", "scale": {"domain": ["No αLL37", "1 µg/ml αLL37", "3 µg/ml αLL37"], "paddingInner": 0, "paddingOuter": 0}},
          "y": {"field": "value", "type": "quantitative", "scale": {"domain": [0, 160], "nice": false},
                "axis": {"title": "IL6 (ng/ml)", "values": [0, 20, 40, 60, 80, 100, 120, 140, 160], "labelFont": "Lato", "labelFontSize": 14, "labelFontWeight": "bold", "titleFont": "Lato", "titleFontSize": 17.5, "titleFontWeight": "bold", "tickSize": 5, "labelPadding": 9, "titlePadding": 12, "labelOverlap": false}},
          "y2": {"field": "hi"}
        }
      },
      {
        "data": {"values": [
          {"group": "LL37", "series": "No αLL37", "value": 70.6, "hi": 79.8},
          {"group": "LL37", "series": "1 µg/ml αLL37", "value": 31.2, "hi": 37.1},
          {"group": "LL37", "series": "3 µg/ml αLL37", "value": 11.1, "hi": 13.4},
          {"group": "EV-LL37", "series": "No αLL37", "value": 140.7, "hi": 154.4},
          {"group": "EV-LL37", "series": "1 µg/ml αLL37", "value": 60.8, "hi": 70},
          {"group": "EV-LL37", "series": "3 µg/ml αLL37", "value": 10.9, "hi": 17}
        ]},
        "mark": {"type": "tick", "orient": "horizontal", "size": 7, "thickness": 1.5, "color": "#000000"},
        "encoding": {
          "x": {"field": "group", "type": "nominal", "scale": {"domain": ["UnRx", "EV", "LL37", "EV-LL37"], "paddingInner": 0.38, "paddingOuter": 0.12},
                "axis": {"title": null, "labelAngle": 0, "tickBand": "extent", "labelFont": "Lato", "labelFontSize": 13.5, "labelFontWeight": "bold", "tickSize": 5, "labelPadding": 8, "labelOverlap": false}},
          "xOffset": {"field": "series", "type": "nominal", "scale": {"domain": ["No αLL37", "1 µg/ml αLL37", "3 µg/ml αLL37"], "paddingInner": 0, "paddingOuter": 0}},
          "y": {"field": "hi", "type": "quantitative", "scale": {"domain": [0, 160], "nice": false},
                "axis": {"title": "IL6 (ng/ml)", "values": [0, 20, 40, 60, 80, 100, 120, 140, 160], "labelFont": "Lato", "labelFontSize": 14, "labelFontWeight": "bold", "titleFont": "Lato", "titleFontSize": 17.5, "titleFontWeight": "bold", "tickSize": 5, "labelPadding": 9, "titlePadding": 12, "labelOverlap": false}}
        }
      },
      {
        "data": {"values": [{"group": "UnRx", "value": 11.4, "hi": 14}, {"group": "EV", "value": 12, "hi": 14.5}]},
        "mark": {"type": "bar", "color": "#000000", "width": {"band": 0.3333}},
        "encoding": {
          "x": {"field": "group", "type": "nominal", "scale": {"domain": ["UnRx", "EV", "LL37", "EV-LL37"], "paddingInner": 0.38, "paddingOuter": 0.12},
                "axis": {"title": null, "labelAngle": 0, "tickBand": "extent", "labelFont": "Lato", "labelFontSize": 13.5, "labelFontWeight": "bold", "tickSize": 5, "labelPadding": 8, "labelOverlap": false}},
          "y": {"field": "value", "type": "quantitative", "scale": {"domain": [0, 160], "nice": false},
                "axis": {"title": "IL6 (ng/ml)", "values": [0, 20, 40, 60, 80, 100, 120, 140, 160], "labelFont": "Lato", "labelFontSize": 14, "labelFontWeight": "bold", "titleFont": "Lato", "titleFontSize": 17.5, "titleFontWeight": "bold", "tickSize": 5, "labelPadding": 9, "titlePadding": 12, "labelOverlap": false}}
        }
      },
      {
        "data": {"values": [{"group": "UnRx", "value": 11.4, "hi": 14}, {"group": "EV", "value": 12, "hi": 14.5}]},
        "mark": {"type": "rule", "color": "#000000", "strokeWidth": 1.5},
        "encoding": {
          "x": {"field": "group", "type": "nominal", "bandPosition": 0.5, "scale": {"domain": ["UnRx", "EV", "LL37", "EV-LL37"], "paddingInner": 0.38, "paddingOuter": 0.12},
                "axis": {"title": null, "labelAngle": 0, "tickBand": "extent", "labelFont": "Lato", "labelFontSize": 13.5, "labelFontWeight": "bold", "tickSize": 5, "labelPadding": 8, "labelOverlap": false}},
          "y": {"field": "value", "type": "quantitative", "scale": {"domain": [0, 160], "nice": false},
                "axis": {"title": "IL6 (ng/ml)", "values": [0, 20, 40, 60, 80, 100, 120, 140, 160], "labelFont": "Lato", "labelFontSize": 14, "labelFontWeight": "bold", "titleFont": "Lato", "titleFontSize": 17.5, "titleFontWeight": "bold", "tickSize": 5, "labelPadding": 9, "titlePadding": 12, "labelOverlap": false}},
          "y2": {"field": "hi"}
        }
      },
      {
        "data": {"values": [{"group": "UnRx", "value": 11.4, "hi": 14}, {"group": "EV", "value": 12, "hi": 14.5}]},
        "mark": {"type": "tick", "orient": "horizontal", "size": 7, "thickness": 1.5, "color": "#000000"},
        "encoding": {
          "x": {"field": "group", "type": "nominal", "bandPosition": 0.5, "scale": {"domain": ["UnRx", "EV", "LL37", "EV-LL37"], "paddingInner": 0.38, "paddingOuter": 0.12},
                "axis": {"title": null, "labelAngle": 0, "tickBand": "extent", "labelFont": "Lato", "labelFontSize": 13.5, "labelFontWeight": "bold", "tickSize": 5, "labelPadding": 8, "labelOverlap": false}},
          "y": {"field": "hi", "type": "quantitative", "scale": {"domain": [0, 160], "nice": false},
                "axis": {"title": "IL6 (ng/ml)", "values": [0, 20, 40, 60, 80, 100, 120, 140, 160], "labelFont": "Lato", "labelFontSize": 14, "labelFontWeight": "bold", "titleFont": "Lato", "titleFontSize": 17.5, "titleFontWeight": "bold", "tickSize": 5, "labelPadding": 9, "titlePadding": 12, "labelOverlap": false}}
        }
      },
      {
        "data": {"values": [{"group": "LL37", "y": 85.4}, {"group": "EV-LL37", "y": 159.4}]},
        "mark": {"type": "rule", "color": "#000000", "strokeWidth": 4.5},
        "encoding": {
          "x": {"field": "group", "type": "nominal", "bandPosition": 0.167, "scale": {"domain": ["UnRx", "EV", "LL37", "EV-LL37"], "paddingInner": 0.38, "paddingOuter": 0.12},
                "axis": {"title": null, "labelAngle": 0, "tickBand": "extent", "labelFont": "Lato", "labelFontSize": 13.5, "labelFontWeight": "bold", "tickSize": 5, "labelPadding": 8, "labelOverlap": false}},
          "x2": {"field": "group", "bandPosition": 0.5},
          "y": {"field": "y", "type": "quantitative", "scale": {"domain": [0, 160], "nice": false},
                "axis": {"title": "IL6 (ng/ml)", "values": [0, 20, 40, 60, 80, 100, 120, 140, 160], "labelFont": "Lato", "labelFontSize": 14, "labelFontWeight": "bold", "titleFont": "Lato", "titleFontSize": 17.5, "titleFontWeight": "bold", "tickSize": 5, "labelPadding": 9, "titlePadding": 12, "labelOverlap": false}}
        }
      },
      {
        "data": {"values": [{"group": "LL37", "y": 45.5}, {"group": "EV-LL37", "y": 78.1}]},
        "mark": {"type": "rule", "color": "#000000", "strokeWidth": 4.5},
        "encoding": {
          "x": {"field": "group", "type": "nominal", "bandPosition": 0.5, "scale": {"domain": ["UnRx", "EV", "LL37", "EV-LL37"], "paddingInner": 0.38, "paddingOuter": 0.12},
                "axis": {"title": null, "labelAngle": 0, "tickBand": "extent", "labelFont": "Lato", "labelFontSize": 13.5, "labelFontWeight": "bold", "tickSize": 5, "labelPadding": 8, "labelOverlap": false}},
          "x2": {"field": "group", "bandPosition": 0.833},
          "y": {"field": "y", "type": "quantitative", "scale": {"domain": [0, 160], "nice": false},
                "axis": {"title": "IL6 (ng/ml)", "values": [0, 20, 40, 60, 80, 100, 120, 140, 160], "labelFont": "Lato", "labelFontSize": 14, "labelFontWeight": "bold", "titleFont": "Lato", "titleFontSize": 17.5, "titleFontWeight": "bold", "tickSize": 5, "labelPadding": 9, "titlePadding": 12, "labelOverlap": false}}
        }
      },
      {
        "data": {"values": [{"group": "LL37", "ty": 89, "label": "**"}, {"group": "EV-LL37", "ty": 163, "label": "**"}]},
        "mark": {"type": "text", "align": "center", "baseline": "middle", "font": "Lato", "fontSize": 24, "fontWeight": "bold", "color": "#000000"},
        "encoding": {
          "x": {"field": "group", "type": "nominal", "bandPosition": 0.333, "scale": {"domain": ["UnRx", "EV", "LL37", "EV-LL37"], "paddingInner": 0.38, "paddingOuter": 0.12},
                "axis": {"title": null, "labelAngle": 0, "tickBand": "extent", "labelFont": "Lato", "labelFontSize": 13.5, "labelFontWeight": "bold", "tickSize": 5, "labelPadding": 8, "labelOverlap": false}},
          "y": {"field": "ty", "type": "quantitative", "scale": {"domain": [0, 160], "nice": false},
                "axis": {"title": "IL6 (ng/ml)", "values": [0, 20, 40, 60, 80, 100, 120, 140, 160], "labelFont": "Lato", "labelFontSize": 14, "labelFontWeight": "bold", "titleFont": "Lato", "titleFontSize": 17.5, "titleFontWeight": "bold", "tickSize": 5, "labelPadding": 9, "titlePadding": 12, "labelOverlap": false}},
          "text": {"field": "label"}
        }
      },
      {
        "data": {"values": [{"group": "LL37", "ty": 49, "label": "**"}, {"group": "EV-LL37", "ty": 81.6, "label": "**"}]},
        "mark": {"type": "text", "align": "center", "baseline": "middle", "font": "Lato", "fontSize": 24, "fontWeight": "bold", "color": "#000000"},
        "encoding": {
          "x": {"field": "group", "type": "nominal", "bandPosition": 0.667, "scale": {"domain": ["UnRx", "EV", "LL37", "EV-LL37"], "paddingInner": 0.38, "paddingOuter": 0.12},
                "axis": {"title": null, "labelAngle": 0, "tickBand": "extent", "labelFont": "Lato", "labelFontSize": 13.5, "labelFontWeight": "bold", "tickSize": 5, "labelPadding": 8, "labelOverlap": false}},
          "y": {"field": "ty", "type": "quantitative", "scale": {"domain": [0, 160], "nice": false},
                "axis": {"title": "IL6 (ng/ml)", "values": [0, 20, 40, 60, 80, 100, 120, 140, 160], "labelFont": "Lato", "labelFontSize": 14, "labelFontWeight": "bold", "titleFont": "Lato", "titleFontSize": 17.5, "titleFontWeight": "bold", "tickSize": 5, "labelPadding": 9, "titlePadding": 12, "labelOverlap": false}},
          "text": {"field": "label"}
        }
      }
    ]
  }
  ]
}
]
}
